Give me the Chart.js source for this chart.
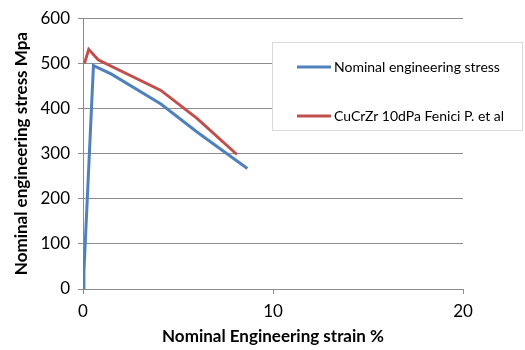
<!DOCTYPE html>
<html>
<head>
<meta charset="utf-8">
<script src="https://cdn.jsdelivr.net/npm/chart.js@4"></script>
<style>
  html, body { margin: 0; padding: 0; background: #fff; }
  #wrap { width: 525px; height: 350px; position: relative; }
</style>
</head>
<body>
<div id="wrap"><canvas id="stressChart"></canvas></div>
<script>
// Strain (%) and stress (MPa) samples for each curve
const nominalStrain = [0, 0.05, 0.55, 1.5, 4.1, 6.0, 8.65];
const nominalStress = [0, 40, 495, 476, 410, 348, 267];
const fenStrain = [0.08, 0.3, 0.8, 4.1, 6.0, 8.1];
const fenStress = [500, 531, 508, 440, 378, 298];

const seriesNames = ['Nominal engineering stress', 'CuCrZr 10dPa Fenici P. et al'];
const seriesColors = ['#4F81BD', '#C0504D'];
const xTicks = [0, 10, 20];
const yTicks = [0, 100, 200, 300, 400, 500, 600];

const toPoints = (xs, ys) => xs.map((x, i) => ({ x: x, y: ys[i] }));

const axisGray = '#8C8C8C';
const fontFamily = 'Lato, "Liberation Sans", sans-serif';

// Boxed legend drawn over the upper right of the plot
const boxLegend = {
    id: 'boxLegend',
    afterDraw(chart) {
        const ctx = chart.ctx;
        const left = 272, top = 42, width = 251, height = 89;
        ctx.save();
        ctx.fillStyle = '#fff';
        ctx.fillRect(left, top, width, height);
        ctx.strokeStyle = '#D9D9D9';
        ctx.lineWidth = 1;
        ctx.strokeRect(left + 0.5, top + 0.5, width - 1, height - 1);
        ctx.font = '14px ' + fontFamily;
        ctx.textBaseline = 'middle';
        chart.data.datasets.forEach((ds, i) => {
            const y = top + 25 + i * 49;
            ctx.strokeStyle = ds.borderColor;
            ctx.lineWidth = 3;
            ctx.beginPath();
            ctx.moveTo(297, y);
            ctx.lineTo(331, y);
            ctx.stroke();
            ctx.fillStyle = '#000';
            ctx.fillText(ds.label, 334, y);
        });
        ctx.restore();
    }
};

const ctx = document.getElementById('stressChart').getContext('2d');

const stressChart = new Chart(ctx, {
    type: 'scatter',
    data: {
        datasets: [
            {
                label: seriesNames[0],
                data: toPoints(nominalStrain, nominalStress),
                borderColor: seriesColors[0],
                backgroundColor: seriesColors[0],
                showLine: true,
                borderWidth: 3,
                pointRadius: 0,
                tension: 0
            },
            {
                label: seriesNames[1],
                data: toPoints(fenStrain, fenStress),
                borderColor: seriesColors[1],
                backgroundColor: seriesColors[1],
                showLine: true,
                borderWidth: 3,
                pointRadius: 0,
                tension: 0
            }
        ]
    },
    options: {
        responsive: true,
        maintainAspectRatio: false,
        animation: false,
        layout: { padding: { top: 16, right: 62, left: 0, bottom: 0 } },
        plugins: {
            legend: { display: false },
            tooltip: { enabled: false }
        },
        scales: {
            x: {
                type: 'linear',
                min: 0,
                max: 20,
                afterBuildTicks: (scale) => { scale.ticks = xTicks.map(v => ({ value: v })); },
                afterFit: (scale) => { scale.height = 61; },
                ticks: {
                    color: '#000',
                    padding: 7,
                    font: { family: fontFamily, size: 17 }
                },
                grid: {
                    drawOnChartArea: false,
                    tickColor: axisGray,
                    tickLength: 5
                },
                border: { color: axisGray },
                title: {
                    display: true,
                    text: 'Nominal Engineering strain %',
                    color: '#000',
                    padding: { top: 0, bottom: 3 },
                    font: { family: fontFamily, size: 17, weight: 'bold' }
                }
            },
            y: {
                type: 'linear',
                min: 0,
                max: 600,
                afterBuildTicks: (scale) => { scale.ticks = yTicks.map(v => ({ value: v })); },
                afterFit: (scale) => { scale.width = 83; },
                ticks: {
                    color: '#000',
                    padding: 8,
                    font: { family: fontFamily, size: 17 }
                },
                grid: {
                    color: axisGray,
                    tickColor: axisGray,
                    tickLength: 5
                },
                border: { color: axisGray },
                title: {
                    display: true,
                    text: 'Nominal engineering stress Mpa',
                    color: '#000',
                    padding: { top: 11, bottom: 0 },
                    font: { family: fontFamily, size: 17, weight: 'bold' }
                }
            }
        }
    },
    plugins: [boxLegend]
});
</script>
</body>
</html>
